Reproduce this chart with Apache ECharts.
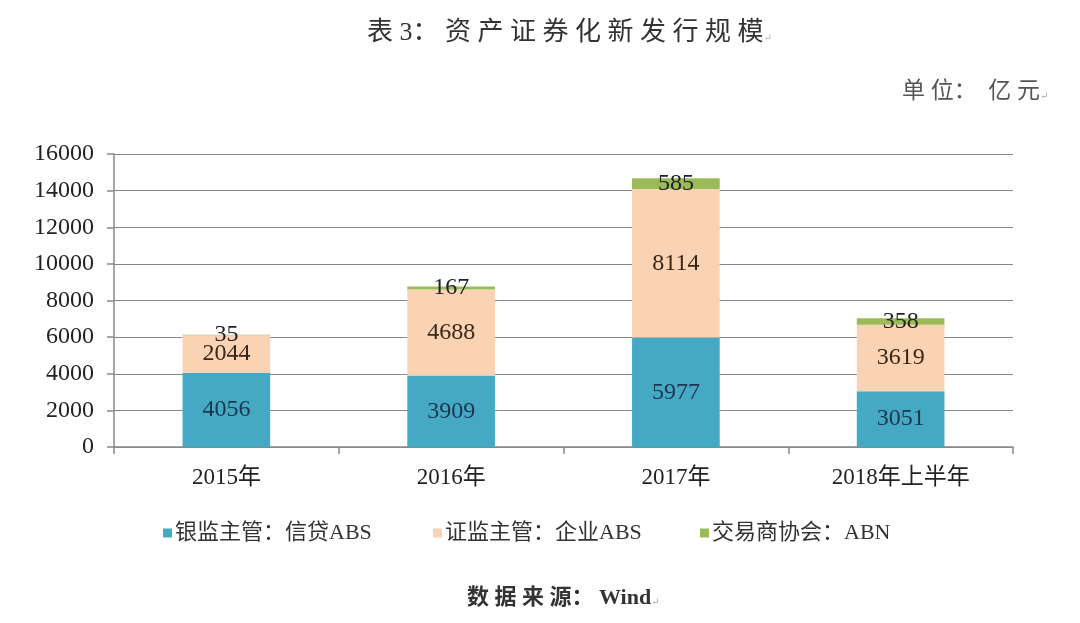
<!DOCTYPE html>
<html><head><meta charset="utf-8">
<script src="https://cdn.jsdelivr.net/npm/echarts@6/dist/echarts.min.js"></script>
<style>html,body{margin:0;padding:0;background:#fff}#c{width:1080px;height:623px}</style>
</head><body><div id="c"></div>
<script>
const categories = ['2015年', '2016年', '2017年', '2018年上半年'];
const bankABS = [4056, 3909, 5977, 3051];
const corpABS = [2044, 4688, 8114, 3619];
const abn = [35, 167, 585, 358];
const seriesNames = ['银监主管：信贷ABS', '证监主管：企业ABS', '交易商协会：ABN'];
const yTicks = {min: 0, max: 16000, interval: 2000};

const serif = '"Liberation Serif","DejaVu Serif","Noto Sans CJK SC",serif';
const chart = echarts.init(document.getElementById('c'), null, {renderer: 'canvas'});
function lbl(color) {
  return {show: true, position: 'inside', fontFamily: serif, fontSize: 24, color: color};
}
function legendAt(name, left) {
  return {data: [name], left: left, top: 517, itemWidth: 9, itemHeight: 9, icon: 'rect',
    textStyle: {fontFamily: serif, fontSize: 22, color: '#333', padding: [0, 0, 0, -2]}};
}
chart.setOption({
  animation: false,
  backgroundColor: '#fff',
  title: [
    {text: '表 3： 资 产 证 券 化 新 发 行 规 模{r|↵}', left: 362, top: 15,
     textStyle: {fontFamily: serif, fontSize: 26, color: '#333', fontWeight: 'normal',
       rich: {r: {fontSize: 10, color: '#aaa', padding: [10, 0, 0, 0]}}}},
    {text: '单 位：  亿 元{r|↵}', left: 897, top: 75,
     textStyle: {fontFamily: serif, fontSize: 23, color: '#555', fontWeight: 'normal',
       rich: {r: {fontSize: 10, color: '#aaa', padding: [9, 0, 0, 0]}}}},
    {text: '数 据 来 源： Wind{r|↵}', left: 462, top: 582,
     textStyle: {fontFamily: serif, fontSize: 22, color: '#333', fontWeight: 'bold',
       rich: {r: {fontSize: 10, color: '#aaa', fontWeight: 'normal', padding: [9, 0, 0, 0]}}}}
  ],
  legend: [legendAt(seriesNames[0], 158), legendAt(seriesNames[1], 428), legendAt(seriesNames[2], 695)],
  grid: {left: 114, right: 67, top: 154, bottom: 176, containLabel: false},
  xAxis: {
    type: 'category', data: categories,
    axisLine: {lineStyle: {color: '#888', width: 1.5}},
    axisTick: {show: true, length: 7, lineStyle: {color: '#888', width: 1.5}},
    axisLabel: {fontFamily: serif, fontSize: 23, color: '#222', margin: 19}
  },
  yAxis: {
    type: 'value', min: yTicks.min, max: yTicks.max, interval: yTicks.interval,
    axisLine: {show: true, lineStyle: {color: '#888', width: 1.5}},
    axisTick: {show: true, length: 7, lineStyle: {color: '#888', width: 1.5}},
    splitLine: {lineStyle: {color: '#888', width: 1.2}},
    axisLabel: {fontFamily: serif, fontSize: 24, color: '#222', margin: 20,
      formatter: function (v) { return String(v); }}
  },
  series: [
    {name: seriesNames[0], type: 'bar', stack: 's', data: bankABS, barWidth: '39%',
     itemStyle: {color: '#45A9C4'}, label: lbl('#1c3550')},
    {name: seriesNames[1], type: 'bar', stack: 's', data: corpABS,
     itemStyle: {color: '#FAD2B4'}, label: lbl('#3a2616')},
    {name: seriesNames[2], type: 'bar', stack: 's', data: abn,
     itemStyle: {color: '#9BBB59'}, label: lbl('#222')}
  ]
});
</script></body></html>
